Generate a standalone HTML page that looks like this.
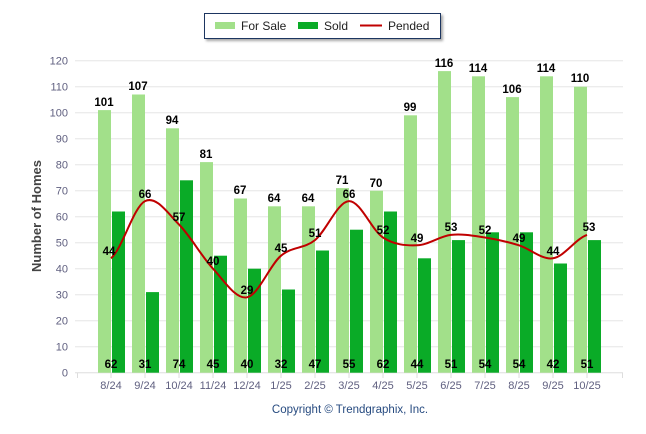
<!DOCTYPE html>
<html><head><meta charset="utf-8"><style>
body{margin:0;background:#fff}
svg{display:block;font-family:"Liberation Sans",Arial,sans-serif}
.ax{fill:#606080;font-size:11px}
.v{font-size:11.5px;font-weight:bold;fill:#000}
</style></head><body>
<svg width="646" height="434" viewBox="0 0 646 434">
<defs><filter id="sh" x="-5%" y="-20%" width="115%" height="160%"><feDropShadow dx="2" dy="2" stdDeviation="1.2" flood-color="#000" flood-opacity="0.35"/></filter></defs>
<rect width="646" height="434" fill="#fff"/>
<g stroke="#e6e6e6" stroke-width="1">
<line x1="75" x2="623" y1="60.7" y2="60.7"/><line x1="75" x2="623" y1="86.7" y2="86.7"/><line x1="75" x2="623" y1="112.7" y2="112.7"/><line x1="75" x2="623" y1="138.7" y2="138.7"/><line x1="75" x2="623" y1="164.7" y2="164.7"/><line x1="75" x2="623" y1="190.7" y2="190.7"/><line x1="75" x2="623" y1="216.7" y2="216.7"/><line x1="75" x2="623" y1="242.7" y2="242.7"/><line x1="75" x2="623" y1="268.7" y2="268.7"/><line x1="75" x2="623" y1="294.7" y2="294.7"/><line x1="75" x2="623" y1="320.7" y2="320.7"/><line x1="75" x2="623" y1="346.7" y2="346.7"/>
</g>
<line x1="75" x2="623" y1="372.7" y2="372.7" stroke="#ddd"/>
<g stroke="#ddd"><line x1="77.5" x2="77.5" y1="373" y2="378"/><line x1="111" x2="111" y1="373" y2="378"/><line x1="145" x2="145" y1="373" y2="378"/><line x1="179" x2="179" y1="373" y2="378"/><line x1="213" x2="213" y1="373" y2="378"/><line x1="247" x2="247" y1="373" y2="378"/><line x1="281" x2="281" y1="373" y2="378"/><line x1="315" x2="315" y1="373" y2="378"/><line x1="349" x2="349" y1="373" y2="378"/><line x1="383" x2="383" y1="373" y2="378"/><line x1="417" x2="417" y1="373" y2="378"/><line x1="451" x2="451" y1="373" y2="378"/><line x1="485" x2="485" y1="373" y2="378"/><line x1="519" x2="519" y1="373" y2="378"/><line x1="553" x2="553" y1="373" y2="378"/><line x1="587" x2="587" y1="373" y2="378"/><line x1="622.5" x2="622.5" y1="373" y2="378"/></g>
<g class="ax" text-anchor="end">
<text x="68" y="64.5">120</text><text x="68" y="90.5">110</text><text x="68" y="116.5">100</text><text x="68" y="142.5">90</text><text x="68" y="168.5">80</text><text x="68" y="194.5">70</text><text x="68" y="220.5">60</text><text x="68" y="246.5">50</text><text x="68" y="272.5">40</text><text x="68" y="298.5">30</text><text x="68" y="324.5">20</text><text x="68" y="350.5">10</text><text x="68" y="376.5">0</text>
</g>
<g class="ax" text-anchor="middle">
<text x="111" y="389">8/24</text><text x="145" y="389">9/24</text><text x="179" y="389">10/24</text><text x="213" y="389">11/24</text><text x="247" y="389">12/24</text><text x="281" y="389">1/25</text><text x="315" y="389">2/25</text><text x="349" y="389">3/25</text><text x="383" y="389">4/25</text><text x="417" y="389">5/25</text><text x="451" y="389">6/25</text><text x="485" y="389">7/25</text><text x="519" y="389">8/25</text><text x="553" y="389">9/25</text><text x="587" y="389">10/25</text>
</g>
<text transform="translate(41,216) rotate(-90)" text-anchor="middle" font-size="13" font-weight="bold" fill="#444">Number of Homes</text>
<g fill="#a2e08a">
<rect x="98" y="110.1" width="13" height="262.6"/><rect x="132" y="94.5" width="13" height="278.2"/><rect x="166" y="128.3" width="13" height="244.4"/><rect x="200" y="162.1" width="13" height="210.6"/><rect x="234" y="198.5" width="13" height="174.2"/><rect x="268" y="206.3" width="13" height="166.4"/><rect x="302" y="206.3" width="13" height="166.4"/><rect x="336" y="188.1" width="13" height="184.6"/><rect x="370" y="190.7" width="13" height="182"/><rect x="404" y="115.3" width="13" height="257.4"/><rect x="438" y="71.1" width="13" height="301.6"/><rect x="472" y="76.3" width="13" height="296.4"/><rect x="506" y="97.1" width="13" height="275.6"/><rect x="540" y="76.3" width="13" height="296.4"/><rect x="574" y="86.7" width="13" height="286"/>
</g>
<g fill="#0aab27">
<rect x="112" y="211.5" width="13" height="161.2"/><rect x="146" y="292.1" width="13" height="80.6"/><rect x="180" y="180.3" width="13" height="192.4"/><rect x="214" y="255.7" width="13" height="117"/><rect x="248" y="268.7" width="13" height="104"/><rect x="282" y="289.5" width="13" height="83.2"/><rect x="316" y="250.5" width="13" height="122.2"/><rect x="350" y="229.7" width="13" height="143"/><rect x="384" y="211.5" width="13" height="161.2"/><rect x="418" y="258.3" width="13" height="114.4"/><rect x="452" y="240.1" width="13" height="132.6"/><rect x="486" y="232.3" width="13" height="140.4"/><rect x="520" y="232.3" width="13" height="140.4"/><rect x="554" y="263.5" width="13" height="109.2"/><rect x="588" y="240.1" width="13" height="132.6"/>
</g>
<path d="M111,258.3 C122.3,248.8 133.7,206.7 145,201.1 C156.3,195.5 167.7,213.2 179,224.5 C190.3,235.8 201.7,256.6 213,268.7 C224.3,280.8 235.7,299.5 247,297.3 C258.3,295.1 269.7,265.2 281,255.7 C292.3,246.2 303.7,249.2 315,240.1 C326.3,231 337.7,201.5 349,201.1 C360.3,200.7 371.7,230.1 383,237.5 C394.3,244.9 405.7,245.7 417,245.3 C428.3,244.9 439.7,236.2 451,234.9 C462.3,233.6 473.7,235.8 485,237.5 C496.3,239.2 507.7,241.8 519,245.3 C530.3,248.8 541.7,260 553,258.3 C564.3,256.6 575.7,238.8 587,234.9" fill="none" stroke="#c00000" stroke-width="2"/>
<g class="v" text-anchor="middle">
<text x="104" y="106">101</text><text x="138" y="90">107</text><text x="172" y="124">94</text><text x="206" y="158">81</text><text x="240" y="194">67</text><text x="274" y="202">64</text><text x="308" y="202">64</text><text x="342" y="184">71</text><text x="376" y="187">70</text><text x="410" y="111">99</text><text x="444" y="67">116</text><text x="478" y="72">114</text><text x="512" y="93">106</text><text x="546" y="72">114</text><text x="580" y="82">110</text>
<text x="111" y="368">62</text><text x="145" y="368">31</text><text x="179" y="368">74</text><text x="213" y="368">45</text><text x="247" y="368">40</text><text x="281" y="368">32</text><text x="315" y="368">47</text><text x="349" y="368">55</text><text x="383" y="368">62</text><text x="417" y="368">44</text><text x="451" y="368">51</text><text x="485" y="368">54</text><text x="519" y="368">54</text><text x="553" y="368">42</text><text x="587" y="368">51</text>
<text x="109" y="255">44</text><text x="145" y="198">66</text><text x="179" y="221">57</text><text x="213" y="265">40</text><text x="247" y="294">29</text><text x="281" y="252">45</text><text x="315" y="237">51</text><text x="349" y="198">66</text><text x="383" y="234">52</text><text x="417" y="242">49</text><text x="451" y="231">53</text><text x="485" y="234">52</text><text x="519" y="242">49</text><text x="553" y="255">44</text><text x="589" y="231">53</text>
</g>
<rect x="204.5" y="13.5" width="236" height="25" fill="#fff" stroke="#1f3560" stroke-width="1" filter="url(#sh)"/>
<rect x="215" y="22" width="20" height="7" fill="#a2e08a"/>
<text x="241" y="30" font-size="12" fill="#222">For Sale</text>
<rect x="298" y="22" width="20" height="7" fill="#0aab27"/>
<text x="324" y="30" font-size="12" fill="#222">Sold</text>
<line x1="360" x2="382" y1="25.5" y2="25.5" stroke="#c00000" stroke-width="2"/>
<text x="388" y="30" font-size="12" fill="#222">Pended</text>
<text x="350" y="413" text-anchor="middle" font-size="11.5" fill="#274b80">Copyright © Trendgraphix, Inc.</text>
</svg>
</body></html>
